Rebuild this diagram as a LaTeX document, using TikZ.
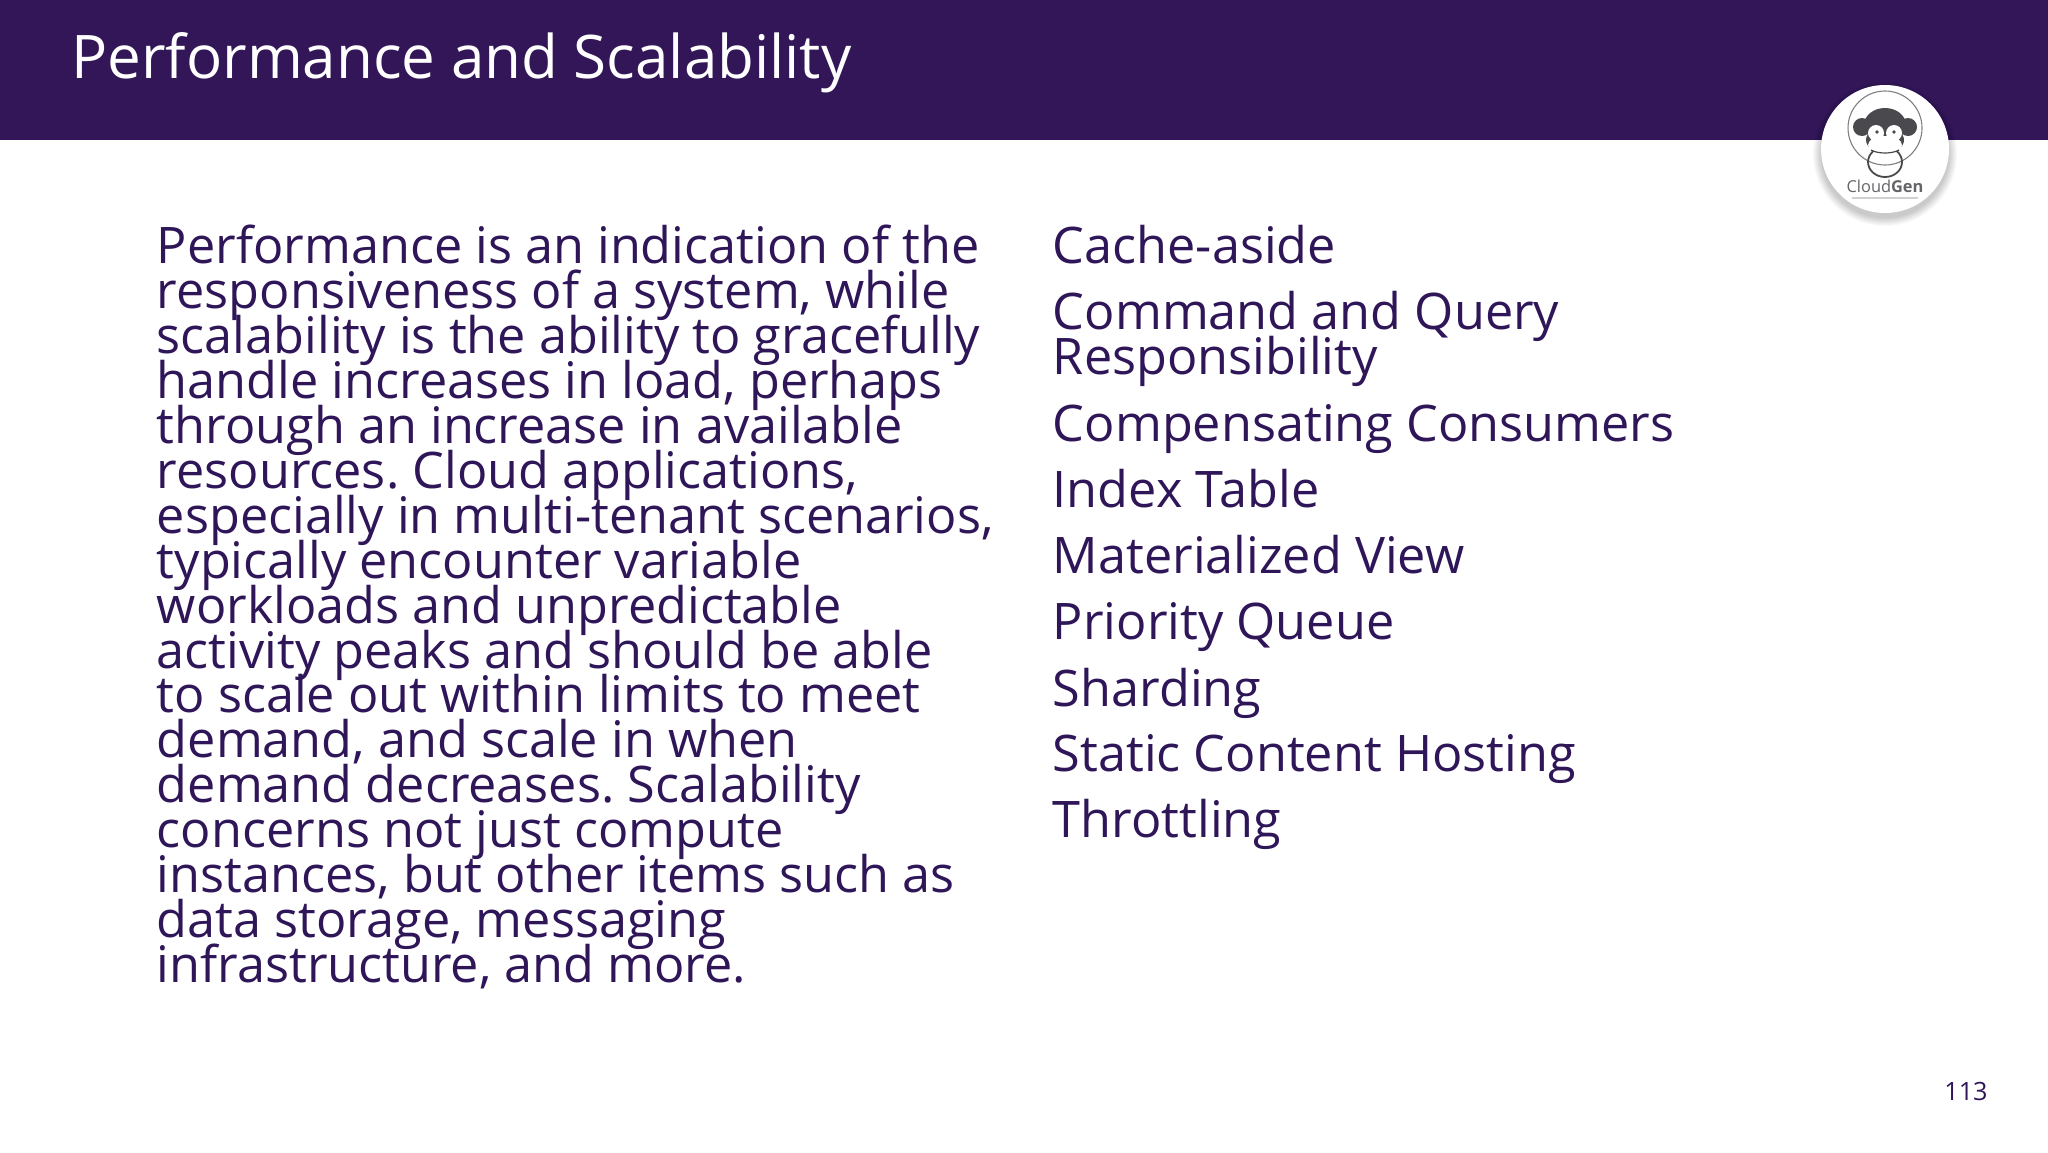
\documentclass[tikz,border=0pt]{standalone}
\usepackage{fontspec}
\setmainfont{Open Sans}
\lineskiplimit=-100pt
\normallineskiplimit=-100pt
\AtBeginDocument{\frenchspacing}
\definecolor{band}{HTML}{321657}
\definecolor{ink}{HTML}{2F1659}
\definecolor{mk}{HTML}{4A4A4E}
\tikzset{
  body/.style={anchor=base west,inner sep=0pt,text=ink,font=\fontsize{25.2}{22.45}\selectfont},
  para/.style={anchor=north west,inner sep=0pt,text=ink,align=left,font=\fontsize{25.2}{22.45}\selectfont},
}
\begin{document}
\begin{tikzpicture}[x=0.5pt,y=-0.5pt]
\useasboundingbox (0,0) rectangle (2048,1152);
\fill[white] (0,0) rectangle (2048,1152);
\fill[band] (0,0) rectangle (2048,140);
\node[anchor=base west,inner sep=0pt,text=white,font=\fontsize{30.05}{36}\selectfont] (title) at (71,78) {Performance and Scalability};
\node[para] (para) at (156.5,225) {Performance is an indication of the\\responsiveness of a system, while\\scalability is the ability to gracefully\\handle increases in load, perhaps\\through an increase in available\\resources. Cloud applications,\\especially in multi-tenant scenarios,\\typically encounter variable\\workloads and unpredictable\\activity peaks and should be able\\to scale out within limits to meet\\demand, and scale in when\\demand decreases. Scalability\\concerns not just compute\\instances, but other items such as\\data storage, messaging\\infrastructure, and more.};
\node[body] (i1) at (1052.5,263) {Cache-aside};
\node[para] (i2) at (1052.5,291) {Command and Query\\Responsibility};
\node[body] (i3) at (1052.5,441) {Compensating Consumers};
\node[body] (i4) at (1052.5,507) {Index Table};
\node[body] (i5) at (1052.5,573) {Materialized View};
\node[body] (i6) at (1052.5,639) {Priority Queue};
\node[body] (i7) at (1052.5,706) {Sharding};
\node[body] (i8) at (1052.5,771) {Static Content Hosting};
\node[body] (i9) at (1052.5,837) {Throttling};
\node[anchor=base east,inner sep=0pt,text=ink,font=\fontsize{12.6}{14}\selectfont] (num) at (1988,1100) {113};
% logo
\foreach \r in {72,71,70,69,68,67,66,65,64}{\fill[black,opacity=.022] (1885,154) circle[radius=\r];}
\fill[white] (1885,149) circle[radius=64];
\draw[mk!70,line width=.55pt] (1885,128) circle[radius=37];
\fill[mk] (1862,127) circle[radius=9] (1908,127) circle[radius=9] (1885,125) ellipse[x radius=21,y radius=17] (1885,140) ellipse[x radius=19,y radius=13];
\fill[white] (1876,133) circle[radius=8] (1894,133) circle[radius=8] (1885,145) ellipse[x radius=17,y radius=9];
\fill[mk] (1877,132) circle[radius=1.9] (1894,132) circle[radius=1.9] (1883,143) circle[radius=1] (1888,143) circle[radius=1];
\draw[mk,line width=.9pt] (1885,162) ellipse[x radius=17,y radius=15];
\fill[white] (1885,146) ellipse[x radius=16,y radius=7];
\draw[mk,line width=.6pt] (1871,150) .. controls (1878,154) and (1892,154) .. (1899,150);
\node[anchor=base,inner sep=0pt,text=mk!85,font=\fontsize{8.2}{10}\selectfont] (logo) at (1885,192) {Cloud\textbf{Gen}};
\fill[mk,opacity=.25] (1852,197) rectangle (1918,199);
\end{tikzpicture}
\end{document}
